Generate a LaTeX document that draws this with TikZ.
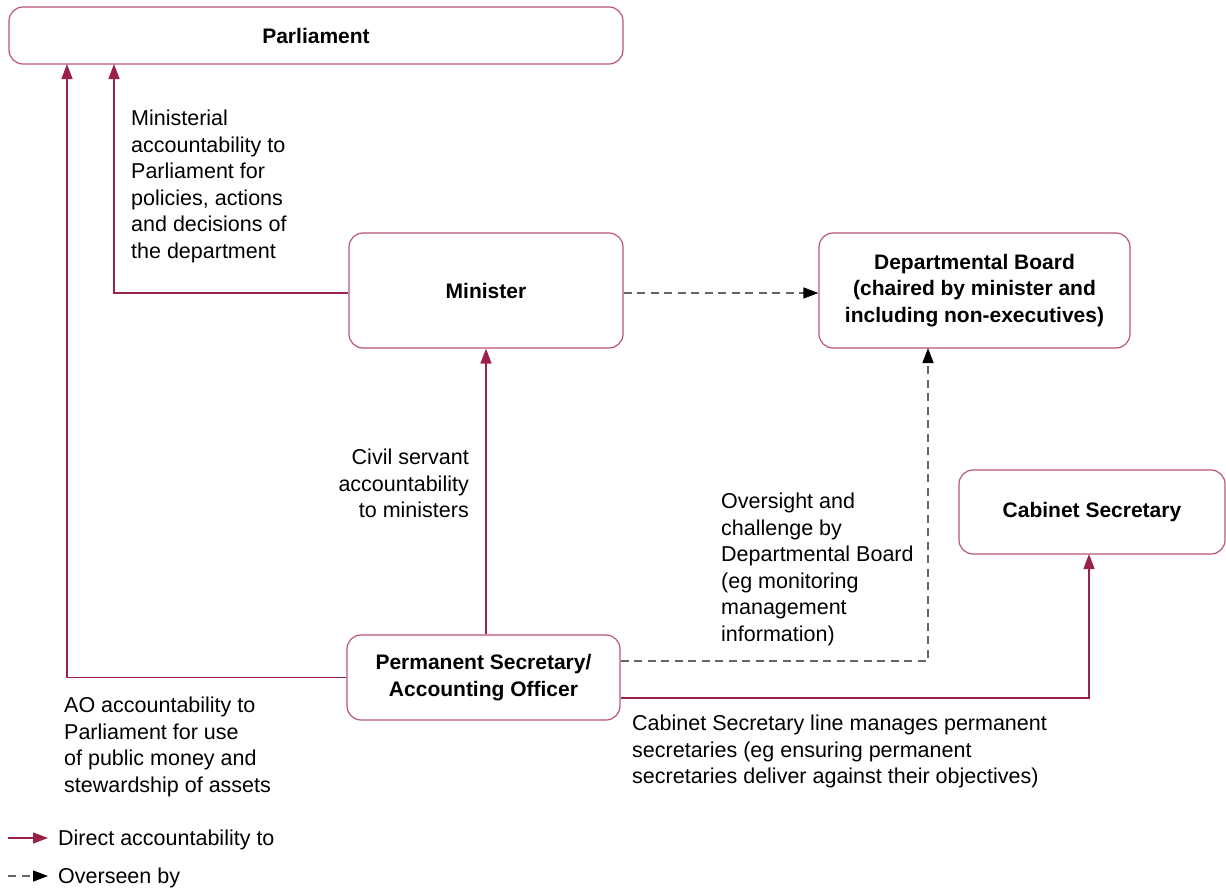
\documentclass[tikz,border=0pt]{standalone}
\usepackage{fontspec}
\setmainfont{Liberation Sans}
\usetikzlibrary{arrows.meta}
\definecolor{claret}{HTML}{9B2246}
\definecolor{boxline}{HTML}{BA5672}
\definecolor{dashgrey}{HTML}{666666}
\begin{document}
\begin{tikzpicture}[x=1pt, y=-1pt,
  font=\fontsize{21.5}{26.5}\selectfont,
  box/.style={draw=boxline, line width=1.2pt, rounded corners=14pt, align=center,
    inner sep=0pt, font=\fontsize{21}{26.5}\selectfont\bfseries},
  acc/.style={claret, line width=1.4pt, -{Triangle[length=15pt,width=11pt]}},
  over/.style={dashgrey, line width=1.4pt, dash pattern=on 8pt off 5.5pt,
    -{Triangle[length=15pt,width=11pt,color=black]}},
  note/.style={align=left, anchor=north west, inner sep=0pt}]
  \useasboundingbox (0,0) rectangle (1226,887);

  % Boxes
  \node[box, minimum width=614pt, minimum height=57pt] (parl) at (316,35.5) {Parliament};
  \node[box, minimum width=274pt, minimum height=115pt] (min) at (486,290.5) {Minister};
  \node[box, minimum width=311pt, minimum height=115pt] (board) at (974.5,290.5)
    {Departmental Board\\(chaired by minister and\\including non-executives)};
  \node[box, minimum width=266pt, minimum height=84pt] (cab) at (1092,512) {Cabinet Secretary};
  \node[box, minimum width=273pt, minimum height=85pt] (ps) at (483.5,677.5)
    {Permanent Secretary/\\Accounting Officer};

  % Arrow ends
  \coordinate (p1) at (114,64);
  \coordinate (p2) at (67,64);
  \coordinate (b1) at (928,348);
  \coordinate (c1) at (1089,554);

  % Direct accountability
  \draw[acc] ([yshift=-2.5pt]min.west) -| (p1);
  \draw[acc] (ps.west) -| (p2);
  \draw[acc] (ps.north -| min.south) -- (min.south);
  \draw[acc] ([yshift=-20.5pt]ps.east) -| (c1);

  % Overseen by
  \draw[over] ([yshift=-2.5pt]min.east) -- ([yshift=-2.5pt]board.west);
  \draw[over] ([yshift=16.5pt]ps.east) -| (b1);

  % Labels
  \node[note] (t1) at (131,110) {Ministerial\\accountability to\\Parliament for\\policies, actions\\and decisions of\\the department};
  \node[note, align=right, anchor=north east] (t2) at (469,449) {Civil servant\\accountability\\to ministers};
  \node[note] (t3) at (721,493) {Oversight and\\challenge by\\Departmental Board\\(eg monitoring\\management\\information)};
  \node[note] (t4) at (64,697) {AO accountability to\\Parliament for use\\of public money and\\stewardship of assets};
  \node[note] (t5) at (632,715) {Cabinet Secretary line manages permanent\\secretaries (eg ensuring permanent\\secretaries deliver against their objectives)};

  % Legend
  \coordinate (l1) at (8,838);
  \coordinate (l2) at (48,838);
  \coordinate (l3) at (8,876);
  \coordinate (l4) at (48,876);
  \draw[acc] (l1) -- (l2);
  \draw[over] (l3) -- (l4);
  \node[inner sep=0pt, anchor=base west] (k1) at (58,845) {Direct accountability to};
  \node[inner sep=0pt, anchor=base west] (k2) at (58,883) {Overseen by};
\end{tikzpicture}
\end{document}
